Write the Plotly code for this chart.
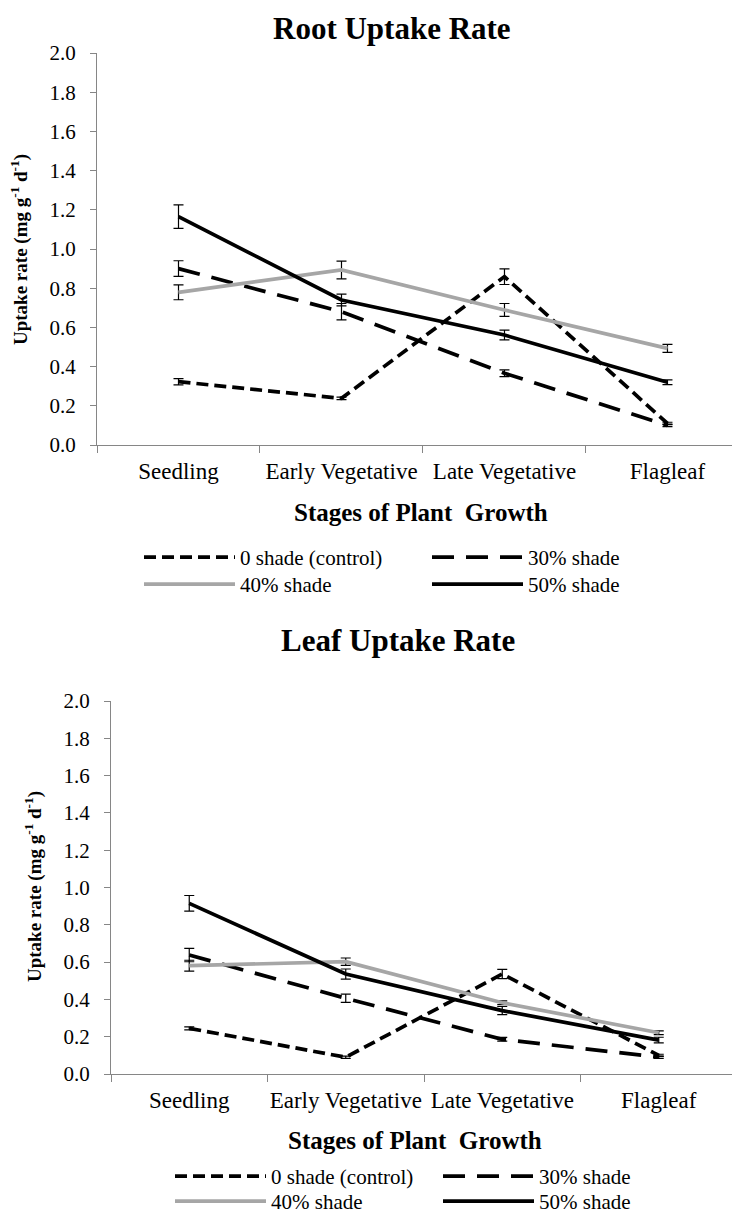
import plotly.graph_objects as go

# The page body has an 8 px margin, so the figure is drawn at (8, 8).
OFF = 8
W, H = 740 - OFF, 1213 - OFF

stages = ["Seedling", "Early Vegetative", "Late Vegetative", "Flagleaf"]
series_names = ["0 shade (control)", "30% shade", "40% shade", "50% shade"]

# Root uptake rate (mg g-1 d-1)
root_0 = [0.323, 0.238, 0.859, 0.11]
root_30 = [0.90, 0.68, 0.366, 0.10]
root_40 = [0.779, 0.893, 0.689, 0.493]
root_50 = [1.165, 0.74, 0.561, 0.32]
root_0_err = [0.016, 0.006, 0.04, 0.006]
root_30_err = [0.04, 0.042, 0.017, 0.006]
root_40_err = [0.038, 0.045, 0.033, 0.02]
root_50_err = [0.06, 0.03, 0.025, 0.012]

# Leaf uptake rate (mg g-1 d-1)
leaf_0 = [0.245, 0.09, 0.536, 0.10]
leaf_30 = [0.638, 0.406, 0.186, 0.09]
leaf_40 = [0.581, 0.602, 0.382, 0.221]
leaf_50 = [0.915, 0.536, 0.34, 0.182]
leaf_0_err = [0.008, 0.006, 0.025, 0.006]
leaf_30_err = [0.036, 0.022, 0.01, 0.006]
leaf_40_err = [0.029, 0.02, 0.01, 0.01]
leaf_50_err = [0.042, 0.027, 0.022, 0.015]

y_ticks = [0.0, 0.2, 0.4, 0.6, 0.8, 1.0, 1.2, 1.4, 1.6, 1.8, 2.0]

styles = [
    dict(color="#000000", width=3.7, dash="12px,6px"),
    dict(color="#000000", width=3.7, dash="22px,12px"),
    dict(color="#A6A6A6", width=3.7, dash="solid"),
    dict(color="#000000", width=3.7, dash="solid"),
]

FONT = "Times New Roman, Liberation Serif, Tinos, serif"


def px_x(p):
    return (p - OFF) / W


def px_y(p):
    return 1 - (p - OFF) / H


fig = go.Figure()

root_sets = [(root_0, root_0_err), (root_30, root_30_err), (root_40, root_40_err), (root_50, root_50_err)]
leaf_sets = [(leaf_0, leaf_0_err), (leaf_30, leaf_30_err), (leaf_40, leaf_40_err), (leaf_50, leaf_50_err)]

legend_ids = ["legend", "legend2", "legend3", "legend4", "legend5", "legend6", "legend7", "legend8"]

for i, (vals, errs) in enumerate(root_sets):
    fig.add_trace(go.Scatter(
        x=stages, y=vals, name=series_names[i], mode="lines",
        line=styles[i], xaxis="x", yaxis="y", legend=legend_ids[i],
        error_y=dict(type="data", array=errs, visible=True, color="#000000", thickness=1.2, width=5),
    ))

for i, (vals, errs) in enumerate(leaf_sets):
    fig.add_trace(go.Scatter(
        x=stages, y=vals, name=series_names[i], mode="lines",
        line=styles[i], xaxis="x2", yaxis="y2", legend=legend_ids[4 + i],
        error_y=dict(type="data", array=errs, visible=True, color="#000000", thickness=1.2, width=5),
    ))

axis_common_x = dict(
    type="category", showline=True, linecolor="#868686", linewidth=1,
    ticks="outside", ticklen=7, tickcolor="#868686", tickson="boundaries",
    showgrid=False, zeroline=False, tickangle=0,
    tickfont=dict(family=FONT, size=23, color="#000000"),
    ticklabelstandoff=5,
)
axis_common_y = dict(
    range=[0, 2.0], tickvals=y_ticks, ticktext=[f"{v:.1f}" for v in y_ticks],
    showline=True, linecolor="#868686", linewidth=1,
    ticks="outside", ticklen=6, tickcolor="#868686",
    showgrid=False, zeroline=False,
    tickfont=dict(family=FONT, size=21, color="#000000"),
    ticklabelstandoff=10,
)

# legend item positions (left x of legend box, top y), in page pixels
legend_pos = [(139, 537), (427, 537), (139, 564), (427, 564),
              (170, 1156), (438, 1156), (170, 1181), (438, 1181)]

layout_legends = {}
for lid, (lx, ly) in zip(legend_ids, legend_pos):
    layout_legends[lid] = dict(
        x=px_x(lx), y=px_y(ly), xanchor="left", yanchor="top",
        orientation="h", itemwidth=91,
        font=dict(family=FONT, size=21, color="#000000"),
        bgcolor="rgba(0,0,0,0)",
    )

fig.update_layout(
    width=W, height=H,
    font=dict(family=FONT, color="#000000"),
    margin=dict(l=0, r=0, t=0, b=0, pad=0, autoexpand=False),
    paper_bgcolor="white", plot_bgcolor="white",
    xaxis=dict(domain=[px_x(97), 1.0], range=[-0.5, 3.445], anchor="y", **axis_common_x),
    yaxis=dict(domain=[px_y(445), px_y(53)], anchor="x", **axis_common_y),
    xaxis2=dict(domain=[px_x(111), px_x(737)], range=[-0.5, 3.5], anchor="y2", **axis_common_x),
    yaxis2=dict(domain=[px_y(1074), px_y(701)], anchor="x2", **axis_common_y),
    showlegend=True,
    **layout_legends,
)

ann = []


def add_text(text, x, y, size, bold=True, angle=0):
    ann.append(dict(
        text=f"<b>{text}</b>" if bold else text,
        x=px_x(x), y=px_y(y), xref="paper", yref="paper",
        xanchor="center", yanchor="middle", showarrow=False, textangle=angle,
        font=dict(family=FONT, size=size, color="#000000"),
    ))


add_text("Root Uptake Rate", 392, 28, 31)
add_text("Leaf Uptake Rate", 398, 640, 31)
add_text("Stages of Plant  Growth", 421, 512, 25)
add_text("Stages of Plant  Growth", 415, 1140, 25)
ytitle = "Uptake rate (mg g<sup>-1</sup> d<sup>-1</sup>)"
add_text(ytitle, 20, 250, 19, angle=-90)
add_text(ytitle, 33, 887, 19, angle=-90)

fig.update_layout(annotations=ann)

fig.write_html("out.html")
